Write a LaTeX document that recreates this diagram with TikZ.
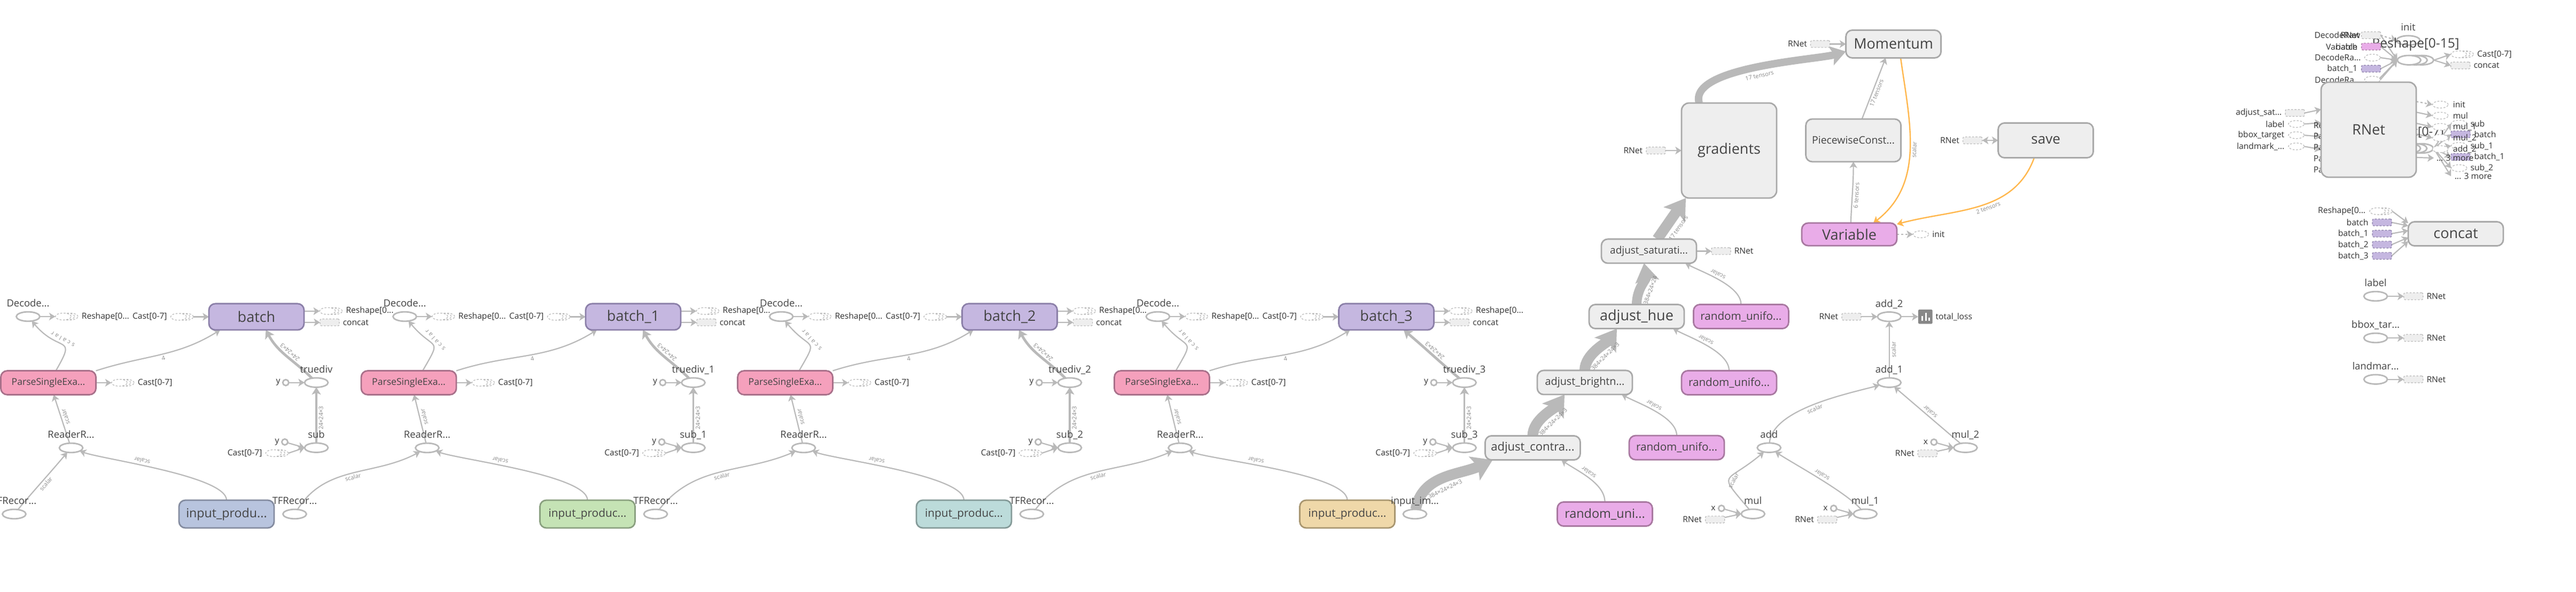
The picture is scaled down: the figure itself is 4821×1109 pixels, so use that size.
\documentclass[tikz,border=0pt]{standalone}
\usepackage{fontspec}
\setmainfont{Open Sans}
\usetikzlibrary{positioning,arrows.meta,shapes.geometric,shadows,backgrounds}

\newcommand{\trunc}{...}

\definecolor{edgegray}{HTML}{B9B9B9}
\definecolor{boxfill}{HTML}{EEEEEE}
\definecolor{boxedge}{HTML}{A9A9A9}
\definecolor{purplef}{HTML}{C5B7E0}
\definecolor{purpled}{HTML}{8B7FA8}
\definecolor{pinkf}{HTML}{F5A0BC}
\definecolor{pinkd}{HTML}{A8708A}
\definecolor{magf}{HTML}{E9ACE8}
\definecolor{magd}{HTML}{A878A0}
\definecolor{inf0}{HTML}{B8C4DE}
\definecolor{ind0}{HTML}{848CA0}
\definecolor{inf1}{HTML}{C5E3B5}
\definecolor{ind1}{HTML}{8AA080}
\definecolor{inf2}{HTML}{BCDBDA}
\definecolor{ind2}{HTML}{849A98}
\definecolor{inf3}{HTML}{EFD8A9}
\definecolor{ind3}{HTML}{A89670}
\definecolor{refor}{HTML}{FFB74D}
\definecolor{nodetext}{HTML}{444444}
\definecolor{smalltext}{HTML}{333333}
\definecolor{edgetext}{HTML}{8A8A8A}

\tikzset{
  tx/.style={font=\fontsize{#1}{#1}\selectfont},
  opbox/.style={rectangle,rounded corners=3pt,line width=.7pt,draw=boxedge,fill=boxfill,text=nodetext,inner sep=0pt,outer sep=0pt,minimum width=44.5pt,minimum height=11.3pt,tx=6.75},
  purplebox/.style={opbox,draw=purpled,fill=purplef,minimum height=12.3pt},
  pinkbox/.style={opbox,draw=pinkd,fill=pinkf,minimum height=11.2pt,tx=4.4},
  magbox/.style={opbox,draw=magd,fill=magf,tx=5.15},
  opell/.style={ellipse,line width=.7pt,draw=edgegray,fill=white,inner sep=0pt,outer sep=0pt,minimum width=11pt,minimum height=4.4pt},
  opstack/.style={opell,
    copy shadow={shadow xshift=6pt,shadow yshift=0pt,draw=edgegray,fill=white,line width=.7pt},
    copy shadow={shadow xshift=3pt,shadow yshift=0pt,draw=edgegray,fill=white,line width=.7pt}},
  opdot/.style={circle,line width=.7pt,draw=edgegray,fill=white,inner sep=0pt,outer sep=0pt,minimum size=2.8pt},
  ghell/.style={ellipse,line width=.3pt,draw=edgegray,dash pattern=on .9pt off .7pt,fill=white,inner sep=0pt,outer sep=0pt,minimum width=7.4pt,minimum height=3.2pt},
  ghstack/.style={ghell,
    copy shadow={shadow xshift=3.2pt,shadow yshift=0pt,draw=edgegray,fill=white,line width=.3pt,dash pattern=on .9pt off .7pt},
    copy shadow={shadow xshift=1.6pt,shadow yshift=0pt,draw=edgegray,fill=white,line width=.3pt,dash pattern=on .9pt off .7pt}},
  ghbox/.style={rectangle,rounded corners=.6pt,line width=.3pt,draw=edgegray,dash pattern=on .9pt off .7pt,fill=boxfill,inner sep=0pt,outer sep=0pt,minimum width=9pt,minimum height=3.2pt},
  ghpurple/.style={ghbox,draw=purpled,fill=purplef},
  ghmag/.style={ghbox,draw=magd,fill=magf},
  elllbl/.style={tx=4.6,text=nodetext,inner sep=0pt,text height=3.5pt,text depth=1pt},
  lbl/.style={tx=3.9,text=smalltext,inner sep=0pt},
  elbl/.style={sloped,allow upside down,below,tx=2.75,text=edgetext,inner sep=.7pt},
  flow/.style={draw=edgegray,line width=.55pt,->},
  dotflow/.style={flow,dash pattern=on 1pt off 1pt},
  refflow/.style={draw=refor,line width=.6pt,<-}
}

\begin{document}
\begin{tikzpicture}[x=.25pt,y=.25pt,>={Stealth[length=2.1pt 1.45,width=2.5pt 1.9,inset=.6pt .25]}]
    \useasboundingbox (0,0) rectangle (4821,-1109);

    \foreach \u/\sfx/\bx/\tx/\px/\rx/\ix/\fx/\psh/\tsh/\tout/\tin/\fout/\fin/\ic/\ift in {
        0//480/592/90.5/133/424/26.5/3.5/4.4/135/-62/50/230//5.8,
        1/\_1/1185/1297.5/765/799.5/1099.5/551.5/6.5/4.6/135/-62/58/208/c/5.2,
        2/\_2/1889.6/2002/1469.5/1504/1804/1227/6.5/4.4/135/-62/52/203/c/5.2,
        3/\_3/2594.5/2740.6/2174.5/2208.6/2521.5/1931/6.5/8.1/140/-40/52/203/c/5.2} {
        \node[purplebox] (bt\u) at (\bx,-593.5) {batch\sfx};
        \node[ghstack,left=10.5pt of bt\u] (cb\u) {};
        \node[lbl,left=1.5pt of cb\u] (cbl\u) {Cast[0-7]};
        \node[ghstack] (rr\u) at (\bx+133,-582.7) {};
        \node[lbl,right=4.75pt of rr\u] (rrl\u) {Reshape[0...};
        \node[ghbox] (cc\u) at (\bx+137,-604) {};
        \node[lbl,right=1.5pt of cc\u] (ccl\u) {concat};

        \node[opell] (dec\u) at (\bx-427.5,-593) {};
        \node[elllbl,above=1.1pt of dec\u] (decl\u) {Decode...};
        \node[ghstack,right=7.25pt of dec\u] (dr\u) {};
        \node[lbl,right=4.75pt of dr\u] (drl\u) {Reshape[0...};

        \node[pinkbox] (ps\u) at (\px,-717) {ParseSingleExa...};
        \node[ghstack,right=7.25pt of ps\u] (pc\u) {};
        \node[lbl,right=4.75pt of pc\u] (pcl\u) {Cast[0-7]};

        \node[opell] (td\u) at (\tx,-716.7) {};
        \node[elllbl,above=1.1pt of td\u] (tdl\u) {truediv\sfx};
        \node[opdot,left=7.4pt of td\u] (yt\u) {};
        \node[lbl,left=1pt of yt\u] (ytl\u) {y};

        \node[opell] (sb\u) at (\tx,-838.7) {};
        \node[elllbl,above=1.1pt of sb\u] (sbl\u) {sub\sfx};
        \node[opdot] (ys\u) at (\tx-59,-828) {};
        \node[lbl,left=1pt of ys\u] (ysl\u) {y};
        \node[ghstack] (cs\u) at (\tx-80,-849) {};
        \node[lbl,left=1.5pt of cs\u] (csl\u) {Cast[0-7]};

        \node[opell] (rd\u) at (\rx,-839) {};
        \node[elllbl,above=1.1pt of rd\u] (rdl\u) {ReaderR...};
        \node[opell] (tf\u) at (\fx,-963) {};
        \node[elllbl,above=1.1pt of tf\u] (tfl\u) {TFRecor...};
        \node[opbox,draw=ind\u,fill=inf\u,minimum height=13pt,tx=\ift] (in\u) at (\ix,-963) {input\_produ\ic...};

        \begin{scope}[on background layer]
            \draw[flow] (dec\u) -- (dr\u);
            \draw[flow] ([xshift=3.2pt]cb\u.east) -- (bt\u);
            \draw[flow] ([yshift=2.6pt]bt\u.east) -- (rr\u);
            \draw[flow] ([yshift=-2.6pt]bt\u.east) -- (cc\u);
            \draw[flow] (ps\u) -- (pc\u);
            \draw[flow] (yt\u) -- (td\u);
            \draw[flow] (ys\u) -- (sb\u.west);
            \draw[flow] ([xshift=3.2pt]cs\u.east) -- (sb\u.west);
            \draw[flow,line width=.9pt] (sb\u) -- node[elbl,pos=.45] {24×24×3} (td\u);
            \draw[flow,line width=1.2pt] (td\u) to[out=\tout,in=\tin] node[elbl,pos=.5] {24×24×3} ([xshift=\tsh pt]bt\u.south);
            \draw[flow] (ps\u.north east) to[out=18,in=212] node[elbl,pos=.52] {4} ([xshift=5.25pt]bt\u.south west);
            \draw[flow] ([xshift=\psh pt]ps\u.north) to[out=60,in=-50,looseness=2] node[elbl,pos=.55] {\addfontfeature{LetterSpace=35}scalar} (dec\u);
            \draw[flow] (rd\u) -- node[elbl,pos=.52] {scalar} ([xshift=2.5pt]ps\u.south);
            \draw[flow] (tf\u) to[out=\fout,in=\fin] node[elbl,pos=.5] {scalar} (rd\u);
            \draw[flow] (in\u) to[out=90,in=-20,looseness=.4] node[elbl,pos=.6] {scalar} (rd\u);
        \end{scope}
    }

    \node[opell] (ie) at (2648,-963) {};
    \node[elllbl,above=1.1pt of ie] (iel) {input\_im...};
    \node[opbox,tx=5.5] (ac) at (2868.5,-839) {adjust\_contra...};
    \node[opbox,tx=4.95] (ab) at (2966,-716.5) {adjust\_brightn...};
    \node[opbox] (ah) at (3063,-593) {adjust\_hue};
    \node[opbox,tx=4.75] (as) at (3086,-470.5) {adjust\_saturati...};
    \node[ghbox,right=7pt of as] (asr) {};
    \node[lbl,right=1.5pt of asr] (asrl) {RNet};
    \node[magbox,tx=5.85] (ru0) at (3003.5,-963) {random\_uni...};
    \node[magbox] (ru1) at (3138,-838.6) {random\_unifo...};
    \node[magbox] (ru2) at (3236,-717) {random\_unifo...};
    \node[magbox] (ru3) at (3258.4,-593) {random\_unifo...};

    \node[opbox,minimum height=44.5pt,rounded corners=3.5pt] (gr) at (3236,-282) {gradients};
    \node[ghbox,left=7.5pt of gr] (grr) {};
    \node[lbl,left=1.5pt of grr] (grrl) {RNet};
    \node[opbox,minimum height=13pt] (mm) at (3543.6,-82.5) {Momentum};
    \node[ghbox,left=7.5pt of mm] (mmr) {};
    \node[lbl,left=1.5pt of mmr] (mmrl) {RNet};
    \node[opbox,minimum height=20pt,tx=4.85] (pw) at (3468.6,-263) {PiecewiseConst...};
    \node[opbox,minimum height=16.3pt,tx=6.5] (sv) at (3828.6,-263) {save};
    \node[ghbox,left=7.5pt of sv] (svr) {};
    \node[lbl,left=1.5pt of svr] (svrl) {RNet};
    \node[magbox,minimum height=10.6pt,tx=6.75] (va) at (3461,-439) {Variable};
    \node[ghell,right=7.5pt of va] (vi) {};
    \node[lbl,right=1.5pt of vi] (vil) {init};

    \node[opell] (a2) at (3535.7,-593.3) {};
    \node[elllbl,above=1.1pt of a2] (a2l) {add\_2};
    \node[ghbox] (a2r) at (3465,-593.3) {};
    \node[lbl,left=1.5pt of a2r] (a2rl) {RNet};
    \node[rectangle,rounded corners=.6pt,fill=black!47,inner sep=0pt,outer sep=0pt,minimum size=6.7pt] (loss) at (3603.3,-593.3) {};
    \fill[white] ([shift={(-7.3,-7.3)}]loss.center) rectangle ([shift={(-4,1.7)}]loss.center);
    \fill[white] ([shift={(-.7,-7.3)}]loss.center) rectangle ([shift={(2.7,7.3)}]loss.center);
    \fill[white] ([shift={(5.7,-7.3)}]loss.center) rectangle ([shift={(8.7,-1.7)}]loss.center);
    \node[lbl,right=1.3pt of loss] (lossl) {total\_loss};
    \node[opell] (a1) at (3535.7,-716.7) {};
    \node[elllbl,above=1.1pt of a1] (a1l) {add\_1};
    \node[opell] (ad) at (3310.7,-838.7) {};
    \node[elllbl,above=1.1pt of ad] (adl) {add};
    \foreach \m/\mx/\my/\mt in {m0/3280.7/962.7/mul,m1/3490.7/962.7/mul\_1,m2/3678.3/838.7/mul\_2} {
        \node[opell] (\m) at (\mx,-\my) {};
        \node[elllbl,above=1.1pt of \m] (\m l) {\mt};
        \node[opdot] (\m x) at (\mx-59,-\my+10.4) {};
        \node[lbl,left=1.2pt of \m x] (\m xl) {x};
        \node[ghbox] (\m r) at (\mx-71,-\my-10.6) {};
        \node[lbl,left=1.5pt of \m r] (\m rl) {RNet};
    }

    \begin{scope}[on background layer]
        \draw[flow,line width=5pt] (ie) to[out=80,in=205] node[elbl,below=1pt,pos=.45] {384×24×24×3} ([xshift=3.5pt]ac.south west);
        \draw[flow,line width=5pt] (ac.north) to[out=90,in=235,looseness=.8] node[elbl,below=1pt,pos=.5] {384×24×24×3} ([xshift=12.75pt]ab.south west);
        \draw[flow,line width=5pt] (ab.north) to[out=90,in=235,looseness=.8] node[elbl,below=1pt,pos=.5] {384×24×24×3} ([xshift=13pt]ah.south west);
        \draw[flow,line width=4.5pt] (ah.north) to[out=90,in=-80] node[elbl,below=1pt,pos=.42] {384×24×24} ([xshift=-2.3pt]as.south);
        \draw[flow,line width=5pt] ([xshift=3.9pt]as.north) -- node[elbl,below=1pt,pos=.42] {17 tensors} ([xshift=2pt]gr.south west);
        \draw[flow,line width=3.5pt] ([xshift=-14pt]gr.north) .. controls (3160,-125) and (3400,-112) .. node[elbl,below=.8pt,pos=.5] {17 tensors} ([yshift=-3.5pt]mm.west);
        \draw[flow] ([xshift=.7pt]va.north) to[out=88,in=-90] node[elbl,pos=.45] {6 tensors} (pw.south);
        \draw[flow] ([xshift=4pt]pw.north) -- node[elbl,pos=.45] {17 tensors} ([xshift=-3.65pt]mm.south);
        \draw[refflow] ([xshift=11.25pt]va.north) to[out=38,in=-82] node[elbl,pos=.5] {scalar} ([xshift=3.35pt]mm.south);
        \draw[refflow] ([yshift=4.75pt]va.east) to[out=15,in=250] node[elbl,pos=.55] {2 tensors} ([xshift=-5.4pt]sv.south);
        \draw[flow] (ru0) to[out=90,in=-35,looseness=.8] node[elbl,pos=.55] {scalar} ([xshift=13.4pt]ac.south);
        \draw[flow] (ru1.north) to[out=90,in=-28,looseness=.7] node[elbl,pos=.55] {scalar} ([xshift=17.25pt]ab.south);
        \draw[flow] (ru2.north) to[out=90,in=-28,looseness=.7] node[elbl,pos=.55] {scalar} ([xshift=17pt]ah.south);
        \draw[flow] (ru3.north) to[out=90,in=-28,looseness=.7] node[elbl,pos=.55] {scalar} ([xshift=17pt]as.south);
        \draw[flow] (as) -- (asr);
        \draw[flow] (grr) -- (gr);
        \draw[flow] (mmr) -- (mm);
        \draw[flow,<->] (svr) -- (sv);
        \draw[dotflow] (va) -- (vi);
        \draw[flow] (a2r) -- (a2);
        \draw[flow] (a2) -- (loss);
        \draw[flow] (a1) -- node[elbl,pos=.5] {scalar} (a2);
        \draw[flow] (ad) to[out=85,in=195,looseness=.7] node[elbl,pos=.5] {scalar} (a1);
        \draw[flow] (m2) -- node[elbl,pos=.5] {scalar} (a1);
        \draw[flow] (m1) to[out=132,in=-33,looseness=.6] node[elbl,pos=.5] {scalar} (ad);
        \draw[flow] (m0) to[out=130,in=220,looseness=2.2] node[elbl,pos=.5] {scalar} (ad);
        \foreach \m in {m0,m1,m2} {
            \draw[flow] (\m x) -- (\m.west);
            \draw[flow] (\m r) -- (\m.west);
        }
    \end{scope}

    \node[opell] (ini) at (4507,-75.7) {};
    \node[elllbl,above=1.1pt of ini] (inil) {init};
    \node[opstack] (rsh) at (4508.5,-112.7) {};
    \node[tx=6.1,text=nodetext,inner sep=0pt] (rshl) at (4521,-82.7) {Reshape[0-15]};
    \node[ghbox] (tr1) at (4437.5,-66) {};
    \node[lbl,anchor=east] (tr1a) at (4418,-66) {DecodeRaw};
    \node[lbl,anchor=east] (tr1b) at (4416.7,-66) {RNet};
    \node[ghmag] (tr2) at (4437.5,-87.3) {};
    \node[lbl,anchor=east] (tr2a) at (4412.7,-87.3) {Variable};
    \node[lbl,anchor=east] (tr2b) at (4412.7,-87.3) {batch};
    \node[ghell] (tr3) at (4440,-108) {};
    \node[lbl,anchor=east] (tr3l) at (4419,-108) {DecodeRa...};
    \node[ghpurple] (tr4) at (4437.5,-128.7) {};
    \node[lbl,anchor=east] (tr4l) at (4412.7,-128.7) {batch\_1};
    \node[ghell] (tr5) at (4440,-149.3) {};
    \node[lbl,anchor=east] (tr5l) at (4419,-149.3) {DecodeRa...};
    \coordinate (tr6) at (4430,-171);
    \node[ghstack] (rshc) at (4601.5,-101.7) {};
    \node[lbl,right=4.75pt of rshc] (rshcl) {Cast[0-7]};
    \node[ghbox] (rshk) at (4604.7,-122.7) {};
    \node[lbl,right=1.5pt of rshk] (rshkl) {concat};

    \node[opstack] (cst) at (4508,-278) {};
    \node[tx=5.8,text=nodetext,inner sep=0pt] (cstl) at (4526,-248) {Cast[0-7]};
    \foreach \n/\ny/\nt in {ra/236/Reshape[0-7],rb/256.7/ParseSingle,rc/277/ParseSingle,rd/298/ParseSingle,re/319/ParseSingle} {
        \node[lbl,anchor=west] (\n) at (4329,-\ny) {\nt};
    }

    \node[opbox,minimum height=44.5pt,rounded corners=3.5pt] (rnet) at (4433,-243) {RNet};

    \node[ghbox] (gsat) at (4295,-211.7) {};
    \node[lbl,left=1.5pt of gsat] (gsatl) {adjust\_sat...};
    \node[ghell] (glab) at (4297.5,-232.3) {};
    \node[lbl,anchor=east] (glabl) at (4276,-232.3) {label};
    \node[ghell] (gbox) at (4297.5,-253.3) {};
    \node[lbl,anchor=east] (gboxl) at (4276,-253.3) {bbox\_target};
    \node[ghell] (glan) at (4297.5,-274.3) {};
    \node[lbl,anchor=east] (glanl) at (4276,-274.3) {landmark\_...};

    \foreach \n/\ny/\nt in {ga/231.7/sub,gc/273.3/sub\_1,ge/315/sub\_2} {
        \node[ghell] (\n) at (4602,-\ny) {};
        \node[lbl,right=1.5pt of \n] (\n l) {\nt};
    }
    \foreach \n/\ny/\nt in {gb/251.7/batch,gd/294/batch\_1} {
        \node[ghpurple] (\n) at (4605,-\ny) {};
        \node[lbl,right=1.7pt of \n] (\n l) {\nt};
    }
    \node[lbl,anchor=west] (gf) at (4593,-330) {... 3 more};

    \foreach \n/\ny/\nt in {oa/196/init,ob/216.7/mul,oc/237.7/mul\_1,od/258.3/mul\_2,oe/279.3/add\_2} {
        \node[ghell] (\n) at (4567,-\ny) {};
        \node[lbl,anchor=west] (\n l) at (4590,-\ny) {\nt};
    }
    \node[lbl,anchor=west] (of) at (4559,-296) {... 3 more};

    \begin{scope}[on background layer]
        \draw[dotflow] (tr1.east) -- (ini.west);
        \draw[flow] (tr1.east) -- (rsh.west);
        \draw[flow] (tr2.east) -- (rsh.west);
        \draw[flow] (tr3.east) -- (rsh.west);
        \draw[flow] (tr4.east) -- (rsh.west);
        \draw[flow] (tr5.east) -- (rsh.west);
        \draw[flow] (tr6) -- (rsh.west);
        \draw[flow] ([xshift=6.15pt]rsh.east) -- (rshc.west);
        \draw[flow] ([xshift=6.15pt]rsh.east) -- (rshk.west);
        \draw[flow] (gsat.east) -- ([yshift=9.5pt]rnet.west);
        \draw[flow] (glab.east) -- ([yshift=3.25pt]rnet.west);
        \draw[flow] (gbox.east) -- ([yshift=-3.25pt]rnet.west);
        \draw[flow] (glan.east) -- ([yshift=-9.25pt]rnet.west);
        \draw[dotflow] ([yshift=13.2pt]rnet.east) -- (oa.west);
        \draw[flow] ([yshift=8.2pt]rnet.east) -- (ob.west);
        \draw[flow] ([yshift=3pt]rnet.east) -- (oc.west);
        \draw[flow] ([yshift=-2pt]rnet.east) -- (od.west);
        \draw[flow] ([yshift=-7.5pt]rnet.east) -- (oe.west);
        \draw[flow] ([yshift=-13pt]rnet.east) -- ([xshift=-1pt]of.west);
        \draw[flow] ([xshift=6.15pt]cst.east) -- (ga.west);
        \draw[flow] ([xshift=6.15pt]cst.east) -- (gb.west);
        \draw[flow] ([xshift=6.15pt]cst.east) -- (gc.west);
        \draw[flow] ([xshift=6.15pt]cst.east) -- (gd.west);
        \draw[flow] ([xshift=6.15pt]cst.east) -- (ge.west);
        \draw[flow] ([xshift=6.15pt]cst.east) -- ([xshift=-1.5pt]gf.west);
    \end{scope}

    \node[opbox,minimum height=11.3pt] (ct) at (4596,-438) {concat};
    \node[ghstack] (ct0) at (4449.5,-395.7) {};
    \node[lbl,left=1.7pt of ct0] (ct0l) {Reshape[0...};
    \foreach \n/\ny/\ns/\nt in {ct1/416.7/3.75/batch,ct2/437.7/1.5/batch\_1,ct3/458.3/-1.75/batch\_2,ct4/479.3/-3.5/batch\_3} {
        \node[ghpurple] (\n) at (4458,-\ny) {};
        \node[lbl,left=1.7pt of \n] (\n l) {\nt};
        \begin{scope}[on background layer]
            \draw[flow] (\n.east) -- ([yshift=\ns pt]ct.west);
        \end{scope}
    }
    \begin{scope}[on background layer]
        \draw[flow] ([xshift=3.2pt]ct0.east) -- ([yshift=5pt]ct.west);
    \end{scope}

    \foreach \n/\ny/\nt in {il/555/label,ib/633/bbox\_tar\trunc,im/710.7/landmar\trunc} {
        \node[opell] (\n) at (4446,-\ny) {};
        \node[elllbl,above=1.1pt of \n] (\n l) {\nt};
        \node[ghbox] (\n r) at (4516.7,-\ny) {};
        \node[lbl,right=1.5pt of \n r] (\n rl) {RNet};
        \begin{scope}[on background layer]
            \draw[flow] (\n) -- (\n r);
        \end{scope}
    }
\end{tikzpicture}
\end{document}
